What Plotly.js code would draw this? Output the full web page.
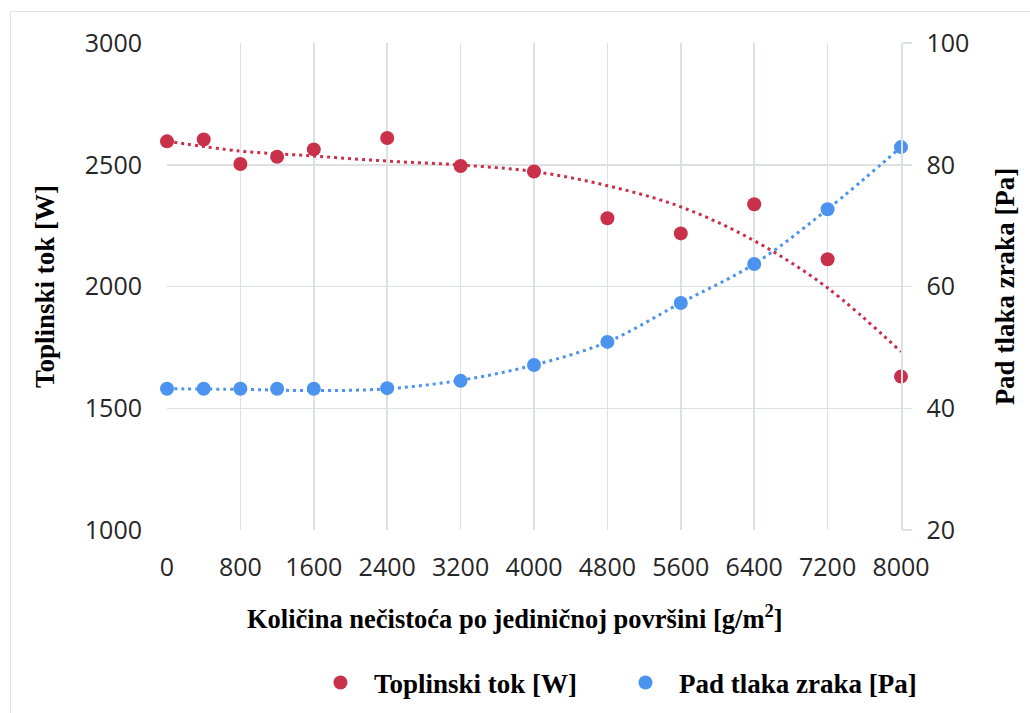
<!DOCTYPE html>
<html>
<head>
<meta charset="utf-8">
<script src="https://cdn.plot.ly/plotly-3.0.1.min.js"></script>
<style>
  html, body { margin: 0; padding: 0; background: #ffffff; }
  #frame { position: absolute; left: 10px; top: 11px; width: 1100px; height: 800px;
           border: 1.5px solid #dfe3e3; box-sizing: border-box; }
  #chart { position: absolute; left: 0; top: 0; width: 1030px; height: 713px; }
</style>
</head>
<body>
<div id="frame"></div>
<div id="chart"></div>
<script>
// ---- data ----
const xValues = [0, 400, 800, 1200, 1600, 2400, 3200, 4000, 4800, 5600, 6400, 7200, 8000];
const heatFlow = [2596, 2604, 2503, 2533, 2563, 2610, 2495, 2472, 2280, 2218, 2338, 2112, 1630];
const pressureDrop = [43.2, 43.2, 43.2, 43.2, 43.2, 43.3, 44.5, 47.1, 50.9, 57.3, 63.7, 72.7, 82.9];

// trendline values at each gridline
const trendX = [0, 800, 1600, 2400, 3200, 4000, 4800, 5600, 6400, 7200, 8000];
const heatTrend = [2597, 2556, 2536, 2515, 2499, 2472, 2414, 2327, 2188, 1994, 1732];
const pressureTrend = [43.2, 43.1, 42.9, 43.2, 44.6, 47.1, 50.9, 57.3, 63.7, 72.7, 82.9];

const xTicks = [0, 800, 1600, 2400, 3200, 4000, 4800, 5600, 6400, 7200, 8000];
const yTicks = [1000, 1500, 2000, 2500, 3000];
const y2Ticks = [20, 40, 60, 80, 100];

const names = ['Toplinski tok [W]', 'Pad tlaka zraka [Pa]'];
const xTitle = 'Količina nečistoća po jediničnoj površini [g/m<sup>2</sup>]';

const RED = '#c9304a';
const BLUE = '#4b93ee';
const GRID = '#dde1e1';
const TICKFONT = { family: 'Open Sans, sans-serif', size: 25, color: '#262626' };
const SERIF = { family: 'Liberation Serif, Times New Roman, serif', size: 27, color: '#000000', weight: 'bold' };
const SERIF_X = Object.assign({}, SERIF, { size: 26.5 });

const traces = [
  { x: trendX, y: heatTrend, type: 'scatter', mode: 'lines', line: { color: RED, width: 3, dash: '3px,4px', shape: 'spline', smoothing: 1 },
    showlegend: false, hoverinfo: 'skip', yaxis: 'y' },
  { x: trendX, y: pressureTrend, type: 'scatter', mode: 'lines', line: { color: BLUE, width: 3, dash: '3px,4px', shape: 'spline', smoothing: 1 },
    showlegend: false, hoverinfo: 'skip', yaxis: 'y2' },
  { x: xValues, y: heatFlow, type: 'scatter', mode: 'markers', name: names[0],
    marker: { color: RED, size: 14 }, cliponaxis: false, yaxis: 'y' },
  { x: xValues, y: pressureDrop, type: 'scatter', mode: 'markers', name: names[1],
    marker: { color: BLUE, size: 14 }, cliponaxis: false, yaxis: 'y2' }
];

const layout = {
  width: 1030, height: 713,
  margin: { l: 167, r: 129, t: 43, b: 183, autoexpand: false },
  paper_bgcolor: 'rgba(0,0,0,0)',
  plot_bgcolor: 'rgba(0,0,0,0)',
  showlegend: true,
  legend: {
    orientation: 'h', x: 0.1907, xanchor: 'left', y: -0.314, yanchor: 'middle',
    font: SERIF, entrywidth: 233, entrywidthmode: 'pixels', itemwidth: 57,
    bgcolor: 'rgba(0,0,0,0)'
  },
  annotations: [
    { text: xTitle, xref: 'paper', yref: 'paper', x: 0.474, y: -0.1786,
      xanchor: 'center', yanchor: 'middle', showarrow: false, font: SERIF_X }
  ],
  xaxis: {
    range: [0, 8000], tickvals: xTicks, ticktext: xTicks.map(String),
    showgrid: true, gridcolor: GRID, gridwidth: 1.5, zeroline: false, automargin: false,
    showline: false, ticks: '', tickfont: TICKFONT, ticklabelstandoff: 20
  },
  yaxis: {
    range: [1000, 3000], tickvals: yTicks, ticktext: yTicks.map(String),
    showgrid: true, gridcolor: GRID, gridwidth: 1.5, zeroline: false, automargin: false,
    showline: false, ticks: '', tickfont: TICKFONT, ticklabelstandoff: 24,
    title: { text: names[0], font: SERIF, standoff: 22 }
  },
  yaxis2: {
    range: [20, 100], tickvals: y2Ticks, ticktext: y2Ticks.map(String),
    overlaying: 'y', side: 'right', showgrid: false, zeroline: false, automargin: false,
    showline: true, linecolor: GRID, linewidth: 1.5,
    ticks: 'outside', ticklen: 9, tickcolor: GRID, tickwidth: 1.5,
    tickfont: TICKFONT, ticklabelstandoff: 10,
    title: { text: names[1], font: SERIF, standoff: 26 }
  }
};

Plotly.newPlot('chart', traces, layout, { staticPlot: true, displayModeBar: false });
</script>
</body>
</html>
